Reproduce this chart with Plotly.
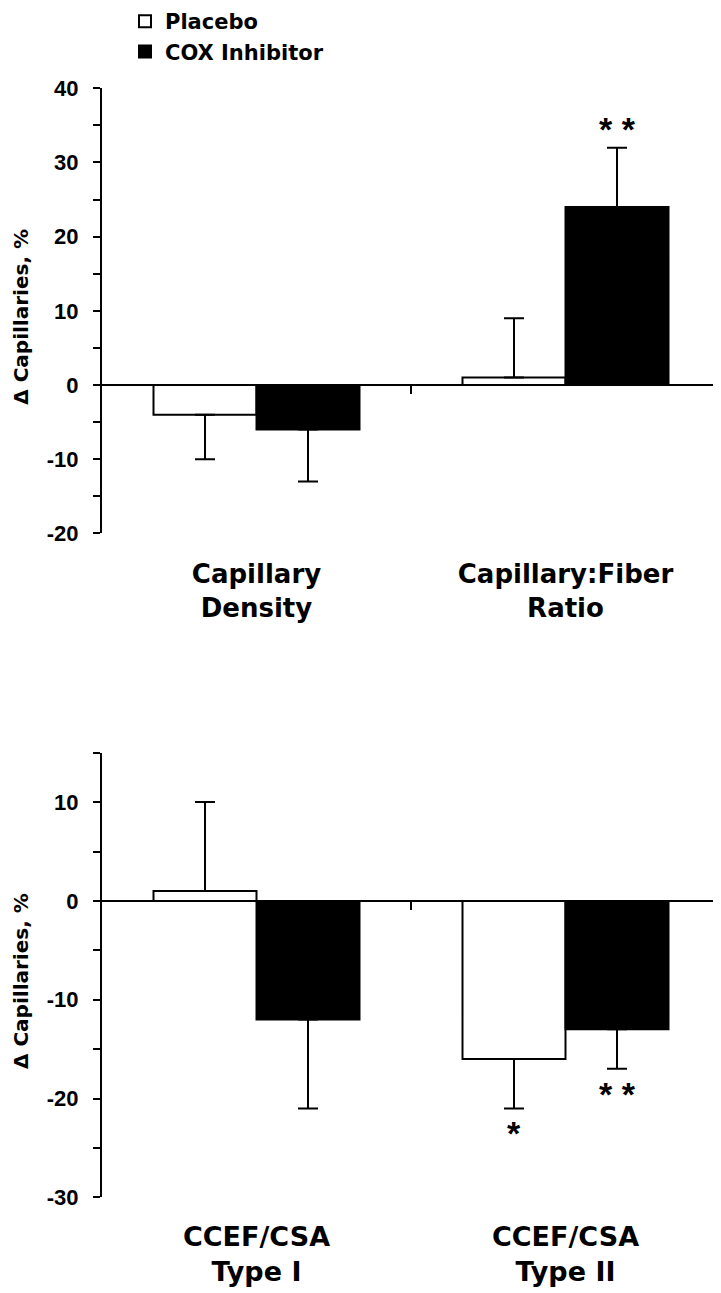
import plotly.graph_objects as go

# ---------------- data ----------------
series_names = ["Placebo", "COX Inhibitor"]

top_categories = ["Capillary<br>Density", "Capillary:Fiber<br>Ratio"]
top_placebo = [-4, 1]
top_placebo_err = [6, 8]
top_cox = [-6, 24]
top_cox_err = [7, 8]
top_placebo_sig = ["", ""]
top_cox_sig = ["", "* *"]

bot_categories = ["CCEF/CSA<br>Type I", "CCEF/CSA<br>Type II"]
bot_placebo = [1, -16]
bot_placebo_err = [9, 5]
bot_cox = [-12, -13]
bot_cox_err = [9, 4]
bot_placebo_sig = ["", "*"]
bot_cox_sig = ["", "* *"]

top_yticks = [-20, -15, -10, -5, 0, 5, 10, 15, 20, 25, 30, 35, 40]
bot_yticks = [-30, -25, -20, -15, -10, -5, 0, 5, 10, 15]

# ---------------- layout constants ----------------
PAGE_OFF = 8                      # default body margin of the html page
W, H = 721 - PAGE_OFF, 1293 - PAGE_OFF
ML, MR = 102 - PAGE_OFF, 1
PW = W - ML - MR
BARGAP = 1 / 3
TOP_RANGE = [-20, 40]
BOT_RANGE = [-30, 15]


def dom(y_bottom_px, y_top_px):
    return [1 - (y_bottom_px - PAGE_OFF) / H, 1 - (y_top_px - PAGE_OFF) / H]


TOP_DOM = dom(533.3, 88.3)
BOT_DOM = dom(1197.3, 752.7)

fills = ["white", "black"]
TICKFONT = dict(family="Liberation Sans, Arial", size=22, color="black", weight="bold")
BIGFONT = "DejaVu Sans"


def err_dirs(vals, errs):
    up = [e if v >= 0 else 0 for v, e in zip(vals, errs)]
    dn = [e if v < 0 else 0 for v, e in zip(vals, errs)]
    return up, dn


fig = go.Figure()

panels = [
    (top_placebo, top_placebo_err, top_cox, top_cox_err, "x", "y", True),
    (bot_placebo, bot_placebo_err, bot_cox, bot_cox_err, "x2", "y2", False),
]
for pv, pe, cv, ce, xa, ya, show in panels:
    for name, vals, errs, fill in [(series_names[0], pv, pe, fills[0]),
                                   (series_names[1], cv, ce, fills[1])]:
        up, dn = err_dirs(vals, errs)
        fig.add_trace(go.Bar(
            x=list(range(len(vals))), y=vals, name=name,
            marker=dict(color=fill, line=dict(color="black", width=2)),
            error_y=dict(type="data", symmetric=False, array=up, arrayminus=dn,
                         color="black", thickness=2, width=10),
            xaxis=xa, yaxis=ya, showlegend=show, legendgroup=name,
        ))

# empty traces so that the zero-line axes get drawn
for xa, ya in (("x3", "y"), ("x4", "y2")):
    fig.add_trace(go.Scatter(x=[None], y=[None], xaxis=xa, yaxis=ya,
                             showlegend=False, hoverinfo="skip", mode="markers"))

# significance markers
offset = (1 - BARGAP) / 4
sig_sets = [
    (top_placebo, top_placebo_err, top_placebo_sig, -offset, "x", "y"),
    (top_cox, top_cox_err, top_cox_sig, offset, "x", "y"),
    (bot_placebo, bot_placebo_err, bot_placebo_sig, -offset, "x2", "y2"),
    (bot_cox, bot_cox_err, bot_cox_sig, offset, "x2", "y2"),
]
for vals, errs, sigs, off, xa, ya in sig_sets:
    for i, (v, e, s) in enumerate(zip(vals, errs, sigs)):
        if not s:
            continue
        pos = v >= 0
        fig.add_annotation(
            x=i + off, y=v + e if pos else v - e, xref=xa, yref=ya,
            text=s, showarrow=False,
            font=dict(family="Liberation Sans, Arial", size=34, color="black", weight="bold"),
            yanchor="bottom" if pos else "top", yshift=-2 if pos else -4,
        )


def zero_pos(d, rng):
    return d[0] + (0 - rng[0]) / (rng[1] - rng[0]) * (d[1] - d[0])


def ytick_text(vals):
    return [str(v) if v % 10 == 0 else "" for v in vals]


common_x = dict(range=[-0.5, 1.5], showgrid=False, zeroline=False, fixedrange=True)

fig.update_layout(
    width=W, height=H,
    margin=dict(l=ML, r=MR, t=0, b=0, autoexpand=False),
    paper_bgcolor="white", plot_bgcolor="white",
    barmode="group", bargap=BARGAP, bargroupgap=0,
    showlegend=True,
    legend=dict(x=(117 - ML) / PW, y=1 + 7 / H, xanchor="left", yanchor="top",
                font=dict(family=BIGFONT, size=21, color="black", weight="bold"),
                bgcolor="rgba(0,0,0,0)", tracegroupgap=0, itemwidth=30),
    # category label axes
    xaxis=dict(domain=[0, 1], anchor="y", tickvals=[0, 1], ticktext=top_categories,
               showline=False, ticks="", ticklabelstandoff=23,
               tickfont=dict(family=BIGFONT, size=26, color="black", weight="bold"),
               **common_x),
    xaxis2=dict(domain=[0, 1], anchor="y2", tickvals=[0, 1], ticktext=bot_categories,
                showline=False, ticks="", ticklabelstandoff=21,
                tickfont=dict(family=BIGFONT, size=27, color="black", weight="bold"),
                **common_x),
    # zero-line axes
    xaxis3=dict(overlaying="x", anchor="free", position=zero_pos(TOP_DOM, TOP_RANGE),
                tickvals=[0.5, 1.5], ticks="outside", ticklen=8, tickwidth=2,
                tickcolor="black", showticklabels=False, showline=True,
                linecolor="black", linewidth=2, **common_x),
    xaxis4=dict(overlaying="x2", anchor="free", position=zero_pos(BOT_DOM, BOT_RANGE),
                tickvals=[0.5, 1.5], ticks="outside", ticklen=8, tickwidth=2,
                tickcolor="black", showticklabels=False, showline=True,
                linecolor="black", linewidth=2, **common_x),
    yaxis=dict(domain=TOP_DOM, anchor="x", range=TOP_RANGE, tickvals=top_yticks,
               ticktext=ytick_text(top_yticks), ticks="outside", ticklen=7, tickwidth=2,
               tickcolor="black", showline=True, linecolor="black", linewidth=2,
               showgrid=False, zeroline=False, tickfont=TICKFONT, ticklabelstandoff=10,
               fixedrange=True),
    yaxis2=dict(domain=BOT_DOM, anchor="x2", range=BOT_RANGE, tickvals=bot_yticks,
                ticktext=ytick_text(bot_yticks), ticks="outside", ticklen=7, tickwidth=2,
                tickcolor="black", showline=True, linecolor="black", linewidth=2,
                showgrid=False, zeroline=False, tickfont=TICKFONT, ticklabelstandoff=10,
                fixedrange=True),
)

# y-axis titles
for d in (TOP_DOM, BOT_DOM):
    fig.add_annotation(
        x=-(ML - 13) / PW, y=(d[0] + d[1]) / 2 - 6 / H,
        xref="paper", yref="paper", text="Δ Capillaries, %", textangle=-90,
        showarrow=False, xanchor="center", yanchor="middle",
        font=dict(family=BIGFONT, size=20, color="black", weight="bold"),
    )

fig.write_html("out.html")
